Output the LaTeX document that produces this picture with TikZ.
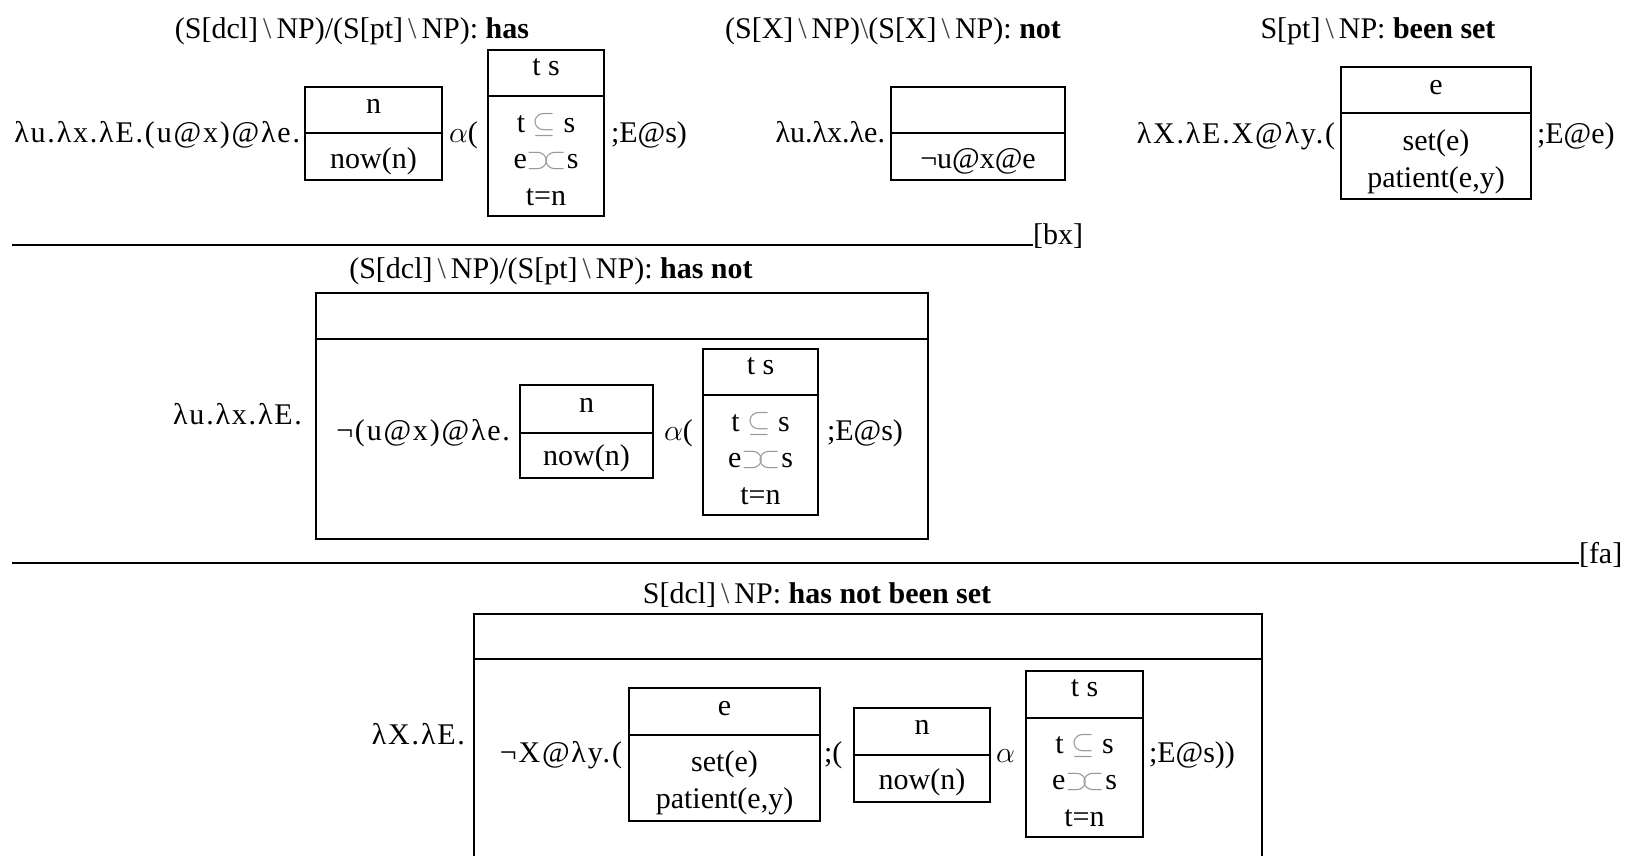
\RequirePackage{fix-cm}
\documentclass[tikz,border=0pt]{standalone}
\usepackage{fontspec}
\setmainfont{Liberation Serif}
\newfontfamily\lamfont[LetterSpace=6]{Liberation Serif}
\usepackage{xcolor}
\newcommand\myfs{\fontsize{30}{36}\selectfont}
\newcommand\bsl{{\,}\textcolor{black!75}{\textbackslash}{\,}}
\newcommand\bsn{\textcolor{black!75}{\textbackslash}}
\newcommand\sube{\textcolor{black!40}{$\subseteq$}}
\newcommand\ovl{\textcolor{black!40}{$\supset\mkern-4mu\subset$}}
\tikzset{
  txt/.style={inner sep=0pt, outer sep=0pt, font=\myfs},
  lam/.style={inner sep=0pt, outer sep=0pt, font=\myfs\lamfont},
  drsbox/.style={draw, line width=1.6pt, inner sep=0pt, outer sep=0pt},
  drsline/.style={line width=1.6pt},
  deriv/.style={line width=1.8pt},
}
\newcommand\drs[6]{%
  \node[drsbox, anchor=north west, minimum width={(#4-#2)*1pt}, minimum height={(#5-#3)*1pt}] (#1) at (#2,#3) {};
  \draw[drsline] (#2,#6) -- (#4,#6);
}
\begin{document}
\begin{tikzpicture}[x=1pt, y=-1pt]
\useasboundingbox (0,0) rectangle (1631,855);
\clip (0,0) rectangle (1631,855);
% ---------- top row: has ----------
\node[txt, anchor=base] (l1) at (352,38) {(S[dcl]\bsl NP)/(S[pt]\bsl NP): \textbf{has}};
\node[lam, anchor=base east] (h1) at (300,142) {λu.λx.λE.(u@x)@λe.};
\drs{hn}{305}{87}{442}{180}{133}
\node[txt, anchor=base] (hn1) at (373.5,113) {n};
\node[txt, anchor=base] (hn2) at (373.5,168) {now(n)};
\node[txt, anchor=base west] (ha) at (449,142) {$\alpha$(};
\drs{hts}{488}{50}{604}{216}{96}
\node[txt, anchor=base] (hts1) at (546,75) {t s};
\node[txt, anchor=base] (hts2) at (546,132) {t \sube{} s};
\node[txt, anchor=base] (hts3) at (546,168) {e\ovl s};
\node[txt, anchor=base] (hts4) at (546,205) {t=n};
\node[txt, anchor=base west] (hE) at (611,142) {;E@s)};
% ---------- top row: not ----------
\node[txt, anchor=base] (l2) at (893,38) {(S[X]\bsl NP)\bsn(S[X]\bsl NP): \textbf{not}};
\node[txt, anchor=base east] (n1) at (885,142) {λu.λx.λe.};
\drs{nb}{891}{87}{1065}{180}{133}
\node[txt, anchor=base] (nb1) at (978,168) {¬u@x@e};
% ---------- top row: been set ----------
\node[txt, anchor=base] (l3) at (1378,38) {S[pt]\bsl NP: \textbf{been set}};
\node[lam, anchor=base east] (b1) at (1335,143) {λX.λE.X@λy.(};
\drs{bs}{1341}{67}{1531}{199}{113}
\node[txt, anchor=base] (bs1) at (1436,94) {e};
\node[txt, anchor=base] (bs2) at (1436,150) {set(e)};
\node[txt, anchor=base] (bs3) at (1436,187) {patient(e,y)};
\node[txt, anchor=base west] (bE) at (1537,143) {;E@e)};
% ---------- bx line ----------
\coordinate (bxa) at (12,245);
\node[txt, anchor=base west] (bx) at (1033,244) {[bx]};
\draw[deriv] (bxa) -- (bxa -| bx.west);
% ---------- middle: has not ----------
\node[txt, anchor=base] (l4) at (551,278) {(S[dcl]\bsl NP)/(S[pt]\bsl NP): \textbf{has not}};
\node[lam, anchor=base east] (m1) at (302,424) {λu.λx.λE.};
\drs{mo}{316}{293}{928}{539}{339}
\node[lam, anchor=base east] (m2) at (510,440) {¬(u@x)@λe.};
\drs{mn}{520}{385}{653}{478}{433}
\node[txt, anchor=base] (mn1) at (586.5,412) {n};
\node[txt, anchor=base] (mn2) at (586.5,465) {now(n)};
\node[txt, anchor=base west] (ma) at (664,440) {$\alpha$(};
\drs{mts}{703}{349}{818}{515}{395}
\node[txt, anchor=base] (mts1) at (760.5,374) {t s};
\node[txt, anchor=base] (mts2) at (760.5,431) {t \sube{} s};
\node[txt, anchor=base] (mts3) at (760.5,467) {e\ovl s};
\node[txt, anchor=base] (mts4) at (760.5,504) {t=n};
\node[txt, anchor=base west] (mE) at (827,440) {;E@s)};
% ---------- fa line ----------
\coordinate (faa) at (12,563);
\node[txt, anchor=base west] (fa) at (1579,563) {[fa]};
\draw[deriv] (faa) -- (faa -| fa.west);
% ---------- bottom: has not been set ----------
\node[txt, anchor=base] (l5) at (817,603) {S[dcl]\bsl NP: \textbf{has not been set}};
\node[lam, anchor=base east] (r1) at (465,744) {λX.λE.};
\drs{bo}{474}{614}{1262}{862}{659}
\node[lam, anchor=base east] (r2) at (622,762) {¬X@λy.(};
\drs{be}{629}{688}{820}{821}{735}
\node[txt, anchor=base] (be1) at (724.5,715) {e};
\node[txt, anchor=base] (be2) at (724.5,771) {set(e)};
\node[txt, anchor=base] (be3) at (724.5,808) {patient(e,y)};
\node[txt, anchor=base west] (r3) at (824,762) {;(};
\drs{bn}{854}{708}{990}{802}{755}
\node[txt, anchor=base] (bn1) at (922,734) {n};
\node[txt, anchor=base] (bn2) at (922,789) {now(n)};
\node[txt, anchor=base west] (r4) at (996,762) {$\alpha$};
\drs{bts}{1026}{671}{1143}{837}{718}
\node[txt, anchor=base] (bts1) at (1084.5,696) {t s};
\node[txt, anchor=base] (bts2) at (1084.5,753) {t \sube{} s};
\node[txt, anchor=base] (bts3) at (1084.5,789) {e\ovl s};
\node[txt, anchor=base] (bts4) at (1084.5,826) {t=n};
\node[txt, anchor=base west] (r5) at (1149,762) {;E@s))};
\end{tikzpicture}
\end{document}
